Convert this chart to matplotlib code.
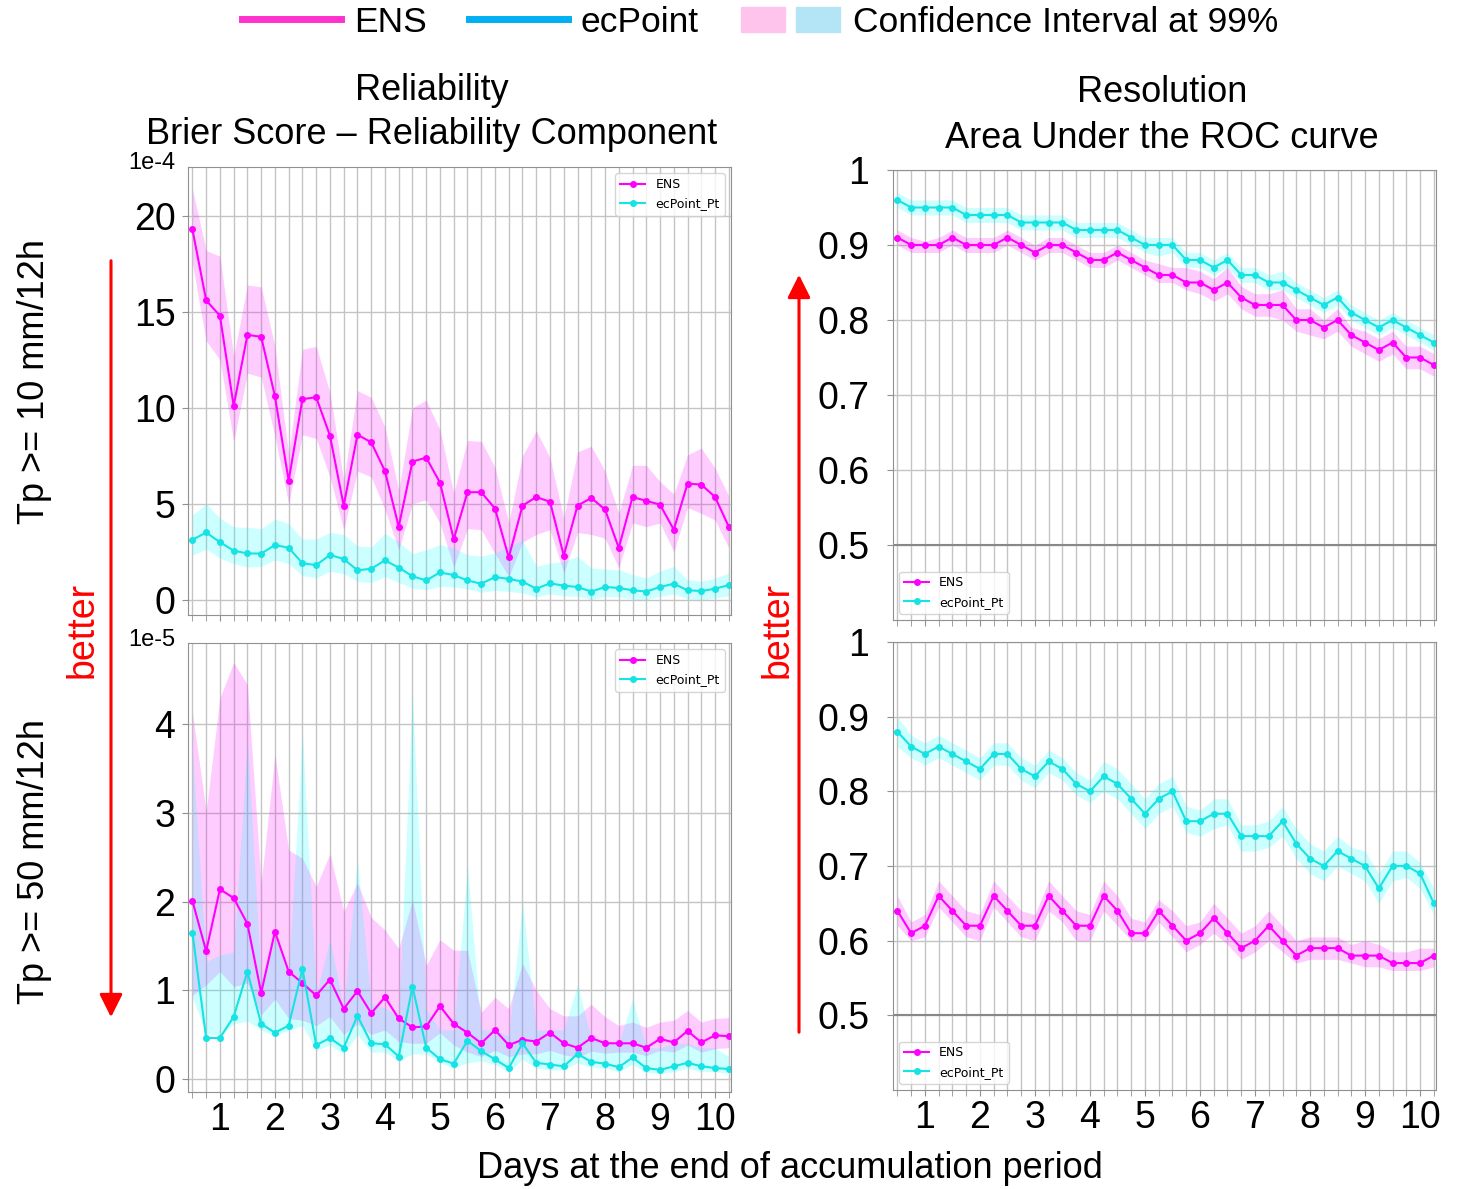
import numpy as np
import matplotlib
matplotlib.use('Agg')
import matplotlib.pyplot as plt
from matplotlib.lines import Line2D
from matplotlib.patches import Patch, FancyArrowPatch
from matplotlib.legend_handler import HandlerTuple

plt.rcParams['font.family'] = ['Liberation Sans', 'DejaVu Sans']

# end of 12h accumulation period, every 6h from t+12 to t+246
lead_hours = np.arange(12, 247, 6)
days = lead_hours / 24
day_ticks = list(range(1, 11))

# --- Reliability, Tp >= 10 mm/12h  (units of 1e-4) ---
rel10_ens = [19.3, 15.6, 14.8, 10.1, 13.8, 13.7, 10.6, 6.2, 10.45, 10.55, 8.55, 4.9, 8.6, 8.2, 6.7, 3.8,
             7.2, 7.4, 6.1, 3.15, 5.6, 5.6, 4.75, 2.2, 4.9, 5.35, 5.1, 2.3, 4.9, 5.3, 4.7, 2.7,
             5.35, 5.15, 4.95, 3.65, 6.05, 6.0, 5.35, 3.8]
rel10_ens_hi = [21.4, 18.2, 17.9, 12.7, 16.4, 16.3, 13.2, 7.6, 13.05, 13.2, 10.8, 6.25, 10.9, 10.55, 9.0, 5.7,
                10.0, 10.4, 8.85, 5.55, 8.3, 8.25, 6.9, 4.0, 7.5, 8.8, 7.4, 4.25, 7.7, 8.0, 6.7, 4.5,
                7.0, 7.0, 6.15, 5.5, 7.55, 7.9, 6.85, 5.4]
rel10_ens_lo = [17.5, 13.5, 12.5, 8.25, 11.8, 11.6, 8.5, 5.0, 8.6, 8.4, 6.4, 3.65, 6.7, 6.4, 4.7, 2.6,
                5.0, 5.2, 4.0, 1.7, 3.7, 3.65, 2.4, 1.2, 3.0, 3.4, 3.65, 1.4, 3.5, 3.4, 3.2, 1.65,
                4.0, 3.8, 4.0, 2.5, 4.8, 4.5, 4.15, 2.7]
rel10_ecp = [3.12, 3.5, 3.0, 2.55, 2.41, 2.4, 2.85, 2.7, 1.9, 1.8, 2.33, 2.12, 1.53, 1.61, 2.05, 1.67,
             1.22, 1.0, 1.42, 1.28, 1.0, 0.83, 1.18, 1.08, 0.94, 0.57, 0.85, 0.73, 0.66, 0.42, 0.66, 0.61,
             0.49, 0.42, 0.66, 0.83, 0.49, 0.45, 0.57, 0.76]
rel10_ecp_hi = [4.4, 5.0, 4.25, 3.8, 3.77, 3.7, 4.2, 3.96, 3.16, 3.16, 3.5, 3.4, 2.8, 2.75, 3.45, 3.0,
                2.4, 2.6, 2.86, 2.7, 2.34, 2.26, 2.43, 2.78, 3.1, 1.74, 1.9, 2.0, 2.26, 1.65, 1.6, 1.56,
                1.3, 1.13, 1.48, 1.74, 1.04, 0.95, 1.13, 1.39]
rel10_ecp_lo = [2.3, 2.64, 2.17, 1.88, 1.7, 1.74, 2.08, 1.88, 1.25, 1.13, 1.48, 1.35, 0.95, 0.9, 1.2, 0.9,
                0.6, 0.52, 0.7, 0.66, 0.56, 0.38, 0.49, 0.43, 0.35, 0.14, 0.31, 0.2, 0.17, 0.0, 0.17, 0.14,
                0.03, 0.0, 0.17, 0.3, 0.03, 0.0, 0.08, 0.2]

# --- Reliability, Tp >= 50 mm/12h  (units of 1e-5) ---
rel50_ens = [2.01, 1.44, 2.14, 2.04, 1.75, 0.97, 1.66, 1.21, 1.08, 0.94, 1.12, 0.79, 0.99, 0.74, 0.92, 0.68,
             0.58, 0.59, 0.82, 0.62, 0.52, 0.40, 0.55, 0.38, 0.44, 0.42, 0.52, 0.40, 0.35, 0.46, 0.40, 0.40,
             0.40, 0.35, 0.45, 0.41, 0.54, 0.41, 0.49, 0.48]
rel50_ens_hi = [4.13, 3.02, 4.30, 4.70, 4.45, 2.21, 3.66, 2.58, 2.49, 2.17, 2.54, 1.89, 2.21, 1.82, 1.68, 1.47,
                2.02, 1.28, 1.57, 1.45, 1.45, 0.75, 0.92, 0.79, 1.30, 1.0, 0.79, 0.71, 0.71, 0.84, 0.70, 0.60,
                0.64, 0.58, 0.64, 0.66, 0.77, 0.64, 0.68, 0.69]
rel50_ens_lo = [0.94, 1.06, 1.21, 1.04, 1.08, 0.72, 0.90, 0.68, 0.66, 0.60, 0.70, 0.50, 0.62, 0.50, 0.55, 0.42,
                0.40, 0.40, 0.52, 0.38, 0.30, 0.25, 0.32, 0.25, 0.28, 0.28, 0.32, 0.27, 0.24, 0.31, 0.29, 0.30,
                0.30, 0.26, 0.32, 0.30, 0.38, 0.30, 0.34, 0.35]
rel50_ecp = [1.65, 0.46, 0.46, 0.70, 1.21, 0.62, 0.52, 0.60, 1.24, 0.38, 0.46, 0.35, 0.71, 0.40, 0.39, 0.25,
             1.04, 0.35, 0.22, 0.17, 0.43, 0.31, 0.22, 0.12, 0.40, 0.18, 0.16, 0.14, 0.28, 0.19, 0.17, 0.13,
             0.24, 0.12, 0.10, 0.14, 0.18, 0.14, 0.12, 0.11]
rel50_ecp_hi = [3.7, 1.32, 1.40, 1.43, 3.83, 1.10, 1.60, 1.20, 3.9, 0.95, 1.58, 0.80, 2.47, 0.85, 0.80, 0.70,
                4.36, 0.78, 0.55, 0.55, 2.4, 0.55, 0.55, 0.48, 2.0, 0.55, 0.55, 0.55, 1.06, 0.45, 0.42, 0.40,
                0.90, 0.35, 0.35, 0.40, 0.40, 0.35, 0.35, 0.25]
rel50_ecp_lo = [0.92, 0.51, 0.49, 0.62, 0.65, 0.55, 0.48, 0.55, 0.60, 0.32, 0.38, 0.28, 0.50, 0.30, 0.30, 0.20,
                0.28, 0.28, 0.18, 0.12, 0.18, 0.20, 0.16, 0.08, 0.22, 0.12, 0.10, 0.10, 0.18, 0.13, 0.12, 0.08,
                0.16, 0.07, 0.06, 0.08, 0.12, 0.08, 0.08, 0.06]

# --- Resolution (AUC), Tp >= 10 mm/12h ---
auc10_ens = [0.91, 0.90, 0.90, 0.90, 0.91, 0.90, 0.90, 0.90, 0.91, 0.90, 0.89, 0.90, 0.90, 0.89, 0.88, 0.88,
             0.89, 0.88, 0.87, 0.86, 0.86, 0.85, 0.85, 0.84, 0.85, 0.83, 0.82, 0.82, 0.82, 0.80, 0.80, 0.79,
             0.80, 0.78, 0.77, 0.76, 0.77, 0.75, 0.75, 0.74]
auc10_ens_hi = [0.92, 0.91, 0.905, 0.91, 0.92, 0.91, 0.91, 0.91, 0.92, 0.91, 0.90, 0.91, 0.91, 0.90, 0.89, 0.89,
                0.90, 0.89, 0.88, 0.875, 0.87, 0.87, 0.865, 0.855, 0.87, 0.845, 0.835, 0.835, 0.84, 0.815, 0.815, 0.80,
                0.815, 0.79, 0.785, 0.775, 0.785, 0.765, 0.765, 0.755]
auc10_ens_lo = [0.90, 0.89, 0.89, 0.89, 0.90, 0.89, 0.89, 0.89, 0.90, 0.89, 0.88, 0.89, 0.89, 0.88, 0.87, 0.87,
                0.88, 0.87, 0.86, 0.85, 0.85, 0.84, 0.835, 0.825, 0.835, 0.815, 0.805, 0.805, 0.80, 0.785, 0.78, 0.775,
                0.785, 0.765, 0.755, 0.745, 0.755, 0.735, 0.735, 0.725]
auc10_ecp = [0.96, 0.95, 0.95, 0.95, 0.95, 0.94, 0.94, 0.94, 0.94, 0.93, 0.93, 0.93, 0.93, 0.92, 0.92, 0.92,
             0.92, 0.91, 0.90, 0.90, 0.90, 0.88, 0.88, 0.87, 0.88, 0.86, 0.86, 0.85, 0.85, 0.84, 0.83, 0.82,
             0.83, 0.81, 0.80, 0.79, 0.80, 0.79, 0.78, 0.77]
auc10_ecp_hi = [0.97, 0.96, 0.96, 0.96, 0.96, 0.95, 0.95, 0.95, 0.95, 0.94, 0.94, 0.94, 0.94, 0.93, 0.93, 0.93,
                0.93, 0.92, 0.91, 0.91, 0.91, 0.89, 0.89, 0.88, 0.89, 0.87, 0.87, 0.86, 0.865, 0.85, 0.84, 0.83,
                0.84, 0.82, 0.81, 0.80, 0.81, 0.80, 0.79, 0.78]
auc10_ecp_lo = [0.95, 0.94, 0.94, 0.94, 0.94, 0.93, 0.93, 0.93, 0.93, 0.92, 0.92, 0.92, 0.92, 0.91, 0.91, 0.91,
                0.91, 0.90, 0.89, 0.885, 0.89, 0.87, 0.87, 0.86, 0.87, 0.85, 0.85, 0.84, 0.84, 0.83, 0.82, 0.81,
                0.82, 0.80, 0.79, 0.78, 0.79, 0.78, 0.77, 0.76]

# --- Resolution (AUC), Tp >= 50 mm/12h ---
auc50_ens = [0.64, 0.61, 0.62, 0.66, 0.64, 0.62, 0.62, 0.66, 0.64, 0.62, 0.62, 0.66, 0.64, 0.62, 0.62, 0.66,
             0.64, 0.61, 0.61, 0.64, 0.62, 0.60, 0.61, 0.63, 0.61, 0.59, 0.60, 0.62, 0.60, 0.58, 0.59, 0.59,
             0.59, 0.58, 0.58, 0.58, 0.57, 0.57, 0.57, 0.58]
auc50_ens_hi = [0.66, 0.625, 0.635, 0.68, 0.66, 0.64, 0.635, 0.68, 0.66, 0.64, 0.635, 0.68, 0.66, 0.64, 0.635, 0.68,
                0.66, 0.63, 0.625, 0.655, 0.64, 0.62, 0.625, 0.65, 0.63, 0.61, 0.62, 0.64, 0.62, 0.60, 0.605, 0.605,
                0.605, 0.595, 0.60, 0.595, 0.585, 0.585, 0.59, 0.59]
auc50_ens_lo = [0.62, 0.60, 0.605, 0.645, 0.625, 0.605, 0.60, 0.645, 0.625, 0.605, 0.60, 0.64, 0.625, 0.60, 0.60, 0.64,
                0.62, 0.60, 0.60, 0.625, 0.605, 0.585, 0.595, 0.61, 0.595, 0.575, 0.585, 0.60, 0.585, 0.57, 0.575, 0.575,
                0.575, 0.57, 0.565, 0.565, 0.56, 0.56, 0.56, 0.565]
auc50_ecp = [0.88, 0.86, 0.85, 0.86, 0.85, 0.84, 0.83, 0.85, 0.85, 0.83, 0.82, 0.84, 0.83, 0.81, 0.80, 0.82,
             0.81, 0.79, 0.77, 0.79, 0.80, 0.76, 0.76, 0.77, 0.77, 0.74, 0.74, 0.74, 0.76, 0.73, 0.71, 0.70,
             0.72, 0.71, 0.70, 0.67, 0.70, 0.70, 0.69, 0.65]
auc50_ecp_hi = [0.90, 0.875, 0.865, 0.875, 0.865, 0.855, 0.845, 0.865, 0.865, 0.845, 0.835, 0.855, 0.845, 0.825, 0.815, 0.84,
                0.83, 0.81, 0.79, 0.81, 0.82, 0.78, 0.775, 0.79, 0.79, 0.755, 0.755, 0.76, 0.78, 0.75, 0.73, 0.72,
                0.74, 0.725, 0.72, 0.69, 0.72, 0.72, 0.705, 0.67]
auc50_ecp_lo = [0.86, 0.845, 0.835, 0.845, 0.835, 0.825, 0.815, 0.835, 0.835, 0.815, 0.805, 0.825, 0.815, 0.795, 0.785, 0.80,
                0.79, 0.77, 0.75, 0.77, 0.78, 0.745, 0.74, 0.75, 0.755, 0.72, 0.72, 0.725, 0.74, 0.71, 0.69, 0.68,
                0.70, 0.69, 0.68, 0.65, 0.68, 0.685, 0.67, 0.635]

ENS_COL = 'magenta'
ECP_COL = '#16e3e3'
W, H = 1458, 1189


def box(x0, y0, x1, y1):
    return [x0 / W, 1 - y1 / H, (x1 - x0) / W, (y1 - y0) / H]


def fpos(x, y):
    return x / W, 1 - y / H


def draw(ax, ens, ens_lo, ens_hi, ecp, ecp_lo, ecp_hi, legend_loc, bottom):
    ax.fill_between(days, ens_lo, ens_hi, color=ENS_COL, alpha=0.2, lw=0)
    ax.fill_between(days, ecp_lo, ecp_hi, color='cyan', alpha=0.2, lw=0)
    ax.plot(days, ens, color=ENS_COL, marker='o', ms=4, lw=1.5, label='ENS')
    ax.plot(days, ecp, color=ECP_COL, marker='o', ms=4, lw=1.5, label='ecPoint_Pt')
    ax.set_xlim(0.42, 10.29)
    ax.set_xticks(day_ticks)
    ax.set_xticks(days, minor=True)
    ax.grid(True, which='both', axis='x', color='#c4c4c4', lw=1)
    ax.grid(True, which='major', axis='y', color='#c4c4c4', lw=1)
    ax.set_axisbelow(True)
    for s in ax.spines.values():
        s.set_color('#909090')
    ax.tick_params(which='both', length=4, color='#909090', labelsize=27)
    if bottom:
        ax.set_xticklabels([str(d) for d in day_ticks])
        ax.tick_params(axis='x', pad=3)
    else:
        ax.set_xticklabels([])
    ax.legend(loc=legend_loc, prop={'family': 'DejaVu Sans', 'size': 9})


fig = plt.figure(figsize=(14.58, 11.89), dpi=100)

ax_tl = fig.add_axes(box(188, 167, 731, 615))
ax_bl = fig.add_axes(box(188, 643, 731, 1092))
ax_tr = fig.add_axes(box(893, 170, 1436, 620))
ax_br = fig.add_axes(box(893, 642, 1436, 1090))

draw(ax_tl, rel10_ens, rel10_ens_lo, rel10_ens_hi, rel10_ecp, rel10_ecp_lo, rel10_ecp_hi, 'upper right', False)
draw(ax_bl, rel50_ens, rel50_ens_lo, rel50_ens_hi, rel50_ecp, rel50_ecp_lo, rel50_ecp_hi, 'upper right', True)
draw(ax_tr, auc10_ens, auc10_ens_lo, auc10_ens_hi, auc10_ecp, auc10_ecp_lo, auc10_ecp_hi, 'lower left', False)
draw(ax_br, auc50_ens, auc50_ens_lo, auc50_ens_hi, auc50_ecp, auc50_ecp_lo, auc50_ecp_hi, 'lower left', True)

ax_tl.set_ylim(-0.8, 22.55)
ax_tl.set_yticks([0, 5, 10, 15, 20])
ax_bl.set_ylim(-0.15, 4.92)
ax_bl.set_yticks([0, 1, 2, 3, 4])
for ax in (ax_tl, ax_bl):
    ax.tick_params(axis='y', pad=5)

auc_ticks = [0.5, 0.6, 0.7, 0.8, 0.9, 1.0]
for ax in (ax_tr, ax_br):
    ax.set_ylim(0.4, 1.0)
    ax.set_yticks(auc_ticks)
    ax.set_yticklabels(['0.5', '0.6', '0.7', '0.8', '0.9', '1'])
    ax.tick_params(axis='y', pad=13)
    ax.axhline(0.5, color='#888888', lw=1.5, zorder=1)

# scale factors
fig.text(*fpos(152, 163), '1e-4', fontsize=17, ha='center', va='center')
fig.text(*fpos(152, 640), '1e-5', fontsize=17, ha='center', va='center')

# column titles
fig.text(*fpos(432, 90), 'Reliability', fontsize=26, ha='center', va='center')
fig.text(*fpos(432, 135), 'Brier Score – Reliability Component', fontsize=26, ha='center', va='center')
fig.text(*fpos(1162, 93), 'Resolution', fontsize=26, ha='center', va='center')
fig.text(*fpos(1162, 138), 'Area Under the ROC curve', fontsize=26, ha='center', va='center')

# row labels
fig.text(*fpos(35, 382), 'Tp >= 10 mm/12h', fontsize=26, rotation=90, ha='center', va='center')
fig.text(*fpos(35, 862), 'Tp >= 50 mm/12h', fontsize=26, rotation=90, ha='center', va='center')

fig.text(*fpos(790, 1168), 'Days at the end of accumulation period', fontsize=26, ha='center', va='center')

# "better" arrows
fig.text(*fpos(83, 630), 'better', fontsize=27, color='red', rotation=90, ha='center', va='center')
fig.text(*fpos(778, 630), 'better', fontsize=27, color='red', rotation=90, ha='center', va='center')
for (x, y0, y1) in [(111, 258, 1020), (799, 1035, 272)]:
    fig.add_artist(FancyArrowPatch(fpos(x, y0), fpos(x, y1), transform=fig.transFigure,
                                   arrowstyle='-|>,head_width=0.35,head_length=0.7',
                                   mutation_scale=20, color='red', lw=2.2))

# figure legend on top
handles = [Line2D([], [], color='#ff33cc', lw=5),
           Line2D([], [], color='#00b0f0', lw=5),
           (Patch(color='#ffc4ec'), Patch(color='#b3e5f7'))]
fig.legend(handles, ['ENS', 'ecPoint', 'Confidence Interval at 99%'],
           loc='center', bbox_to_anchor=fpos(760, 22), ncol=3, frameon=False,
           fontsize=25.5, handlelength=2.8, handletextpad=0.35, columnspacing=1.2,
           handler_map={tuple: HandlerTuple(ndivide=None, pad=0.3)})

fig.savefig('out.png', dpi=100)
